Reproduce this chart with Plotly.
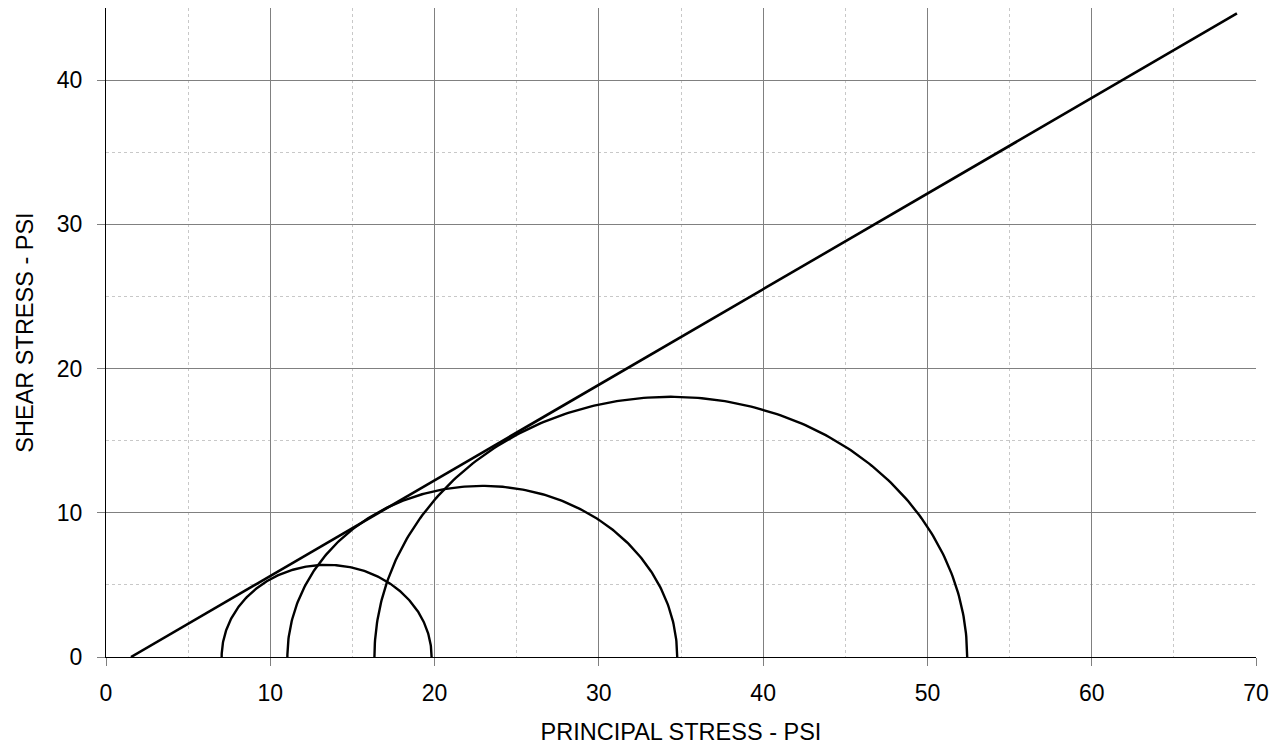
import numpy as np
import plotly.graph_objects as go

# Mohr circles: minor and major principal stresses (psi)
sigma3 = [7.04, 11.04, 16.34]
sigma1 = [19.82, 34.77, 52.42]

# Failure envelope end points
envelope_x = [1.52, 68.84]
envelope_y = [0.0, 44.62]

x_ticks = [0, 10, 20, 30, 40, 50, 60, 70]
y_ticks = [0, 10, 20, 30, 40]

FONT = "Liberation Sans, Arial, sans-serif"

fig = go.Figure()

theta = np.linspace(0, np.pi, 241)
for s3, s1 in zip(sigma3, sigma1):
    c = (s1 + s3) / 2.0
    r = (s1 - s3) / 2.0
    fig.add_trace(go.Scatter(
        x=c + r * np.cos(theta), y=r * np.sin(theta),
        mode="lines", line=dict(color="black", width=2.4),
        hoverinfo="skip", showlegend=False))

fig.add_trace(go.Scatter(
    x=envelope_x, y=envelope_y, mode="lines",
    line=dict(color="black", width=2.6),
    hoverinfo="skip", showlegend=False))

axis_common = dict(
    showline=True, linecolor="black", linewidth=1,
    showgrid=True, gridcolor="#808080", gridwidth=1,
    zeroline=False, automargin=False,
    ticks="outside", ticklen=8, tickcolor="#808080", tickwidth=1,
    tickfont=dict(family=FONT, size=23, color="black"),
    minor=dict(dtick=5, showgrid=True, gridcolor="#c8c8c8", griddash="dot", gridwidth=1),
)

fig.update_xaxes(
    range=[0, 70], tickvals=x_ticks, ticktext=[str(v) for v in x_ticks],
    title=dict(text="PRINCIPAL STRESS - PSI", font=dict(family=FONT, size=23.5, color="black"), standoff=18),
    ticklabelstandoff=7,
    **axis_common)
fig.update_yaxes(
    range=[0, 45], tickvals=y_ticks, ticktext=[str(v) for v in y_ticks],
    title=dict(text="SHEAR STRESS - PSI", font=dict(family=FONT, size=23.5, color="black"), standoff=16),
    ticklabelstandoff=10,
    **axis_common)

fig.update_layout(
    width=1272, height=739,
    margin=dict(l=98, r=24, t=0, b=90),
    plot_bgcolor="white", paper_bgcolor="white",
    font=dict(family=FONT, color="black"),
    showlegend=False,
)

fig.write_html("out.html")
